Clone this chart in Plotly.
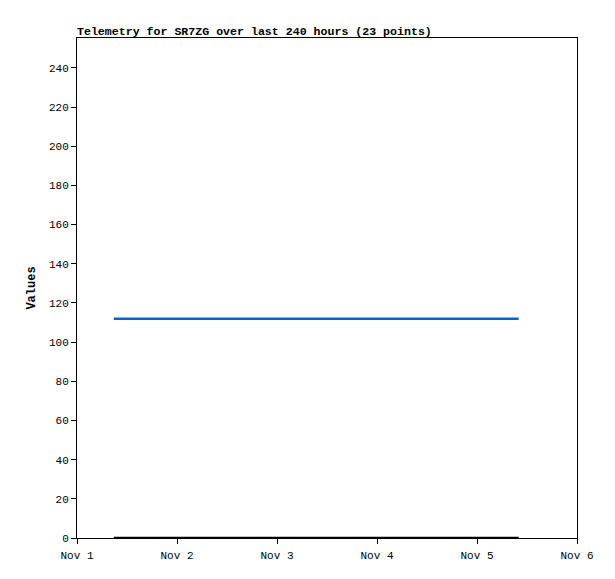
import plotly.graph_objects as go

times = [
    "2023-11-01 08:50", "2023-11-01 13:15", "2023-11-01 17:40", "2023-11-01 22:05",
    "2023-11-02 02:30", "2023-11-02 06:55", "2023-11-02 11:20", "2023-11-02 15:45",
    "2023-11-02 20:10", "2023-11-03 00:35", "2023-11-03 05:00", "2023-11-03 09:25",
    "2023-11-03 13:50", "2023-11-03 18:15", "2023-11-03 22:40", "2023-11-04 03:05",
    "2023-11-04 07:30", "2023-11-04 11:55", "2023-11-04 16:20", "2023-11-04 20:45",
    "2023-11-05 01:10", "2023-11-05 05:35", "2023-11-05 10:00",
]
series_blue = [112] * 23
series_black = [0] * 23

tick_vals = ["2023-11-01", "2023-11-02", "2023-11-03", "2023-11-04", "2023-11-05", "2023-11-06"]
tick_text = ["Nov 1", "Nov 2", "Nov 3", "Nov 4", "Nov 5", "Nov 6"]

font = "Liberation Mono, DejaVu Sans Mono, monospace"

fig = go.Figure()
fig.add_trace(go.Scatter(x=times, y=series_blue, mode="lines",
                         line=dict(color="#0066cc", width=2.5), showlegend=False))
fig.add_trace(go.Scatter(x=times, y=series_black, mode="lines",
                         line=dict(color="#000000", width=2.5), showlegend=False, cliponaxis=False))

fig.update_layout(
    width=615, height=579,
    margin=dict(l=69, r=46, t=30, b=49),
    paper_bgcolor="white", plot_bgcolor="white",
    font=dict(family=font, size=11, color="black"),
    title=dict(text="<b>Telemetry for SR7ZG over last 240 hours (23 points)</b>",
               x=69/615, xanchor="left", y=1-23/579, yanchor="middle",
               font=dict(family=font, size=11.6, color="black")),
)
fig.update_xaxes(range=["2023-11-01", "2023-11-06"], tickvals=tick_vals, ticktext=tick_text,
                 showgrid=False, zeroline=False, showline=True, linecolor="black", linewidth=1,
                 mirror=True, ticks="outside", ticklen=5, tickcolor="black",
                 ticklabelstandoff=2,
                 tickfont=dict(family=font, size=11))
fig.update_yaxes(range=[0, 255.3], tickvals=list(range(0, 241, 20)),
                 showgrid=False, zeroline=False, showline=True, linecolor="black", linewidth=1,
                 mirror=True, ticks="outside", ticklen=5, tickcolor="black",
                 tickfont=dict(family=font, size=11),
                 title=dict(text="<b>Values</b>", font=dict(family=font, size=12), standoff=10))

fig.write_html("out.html")
